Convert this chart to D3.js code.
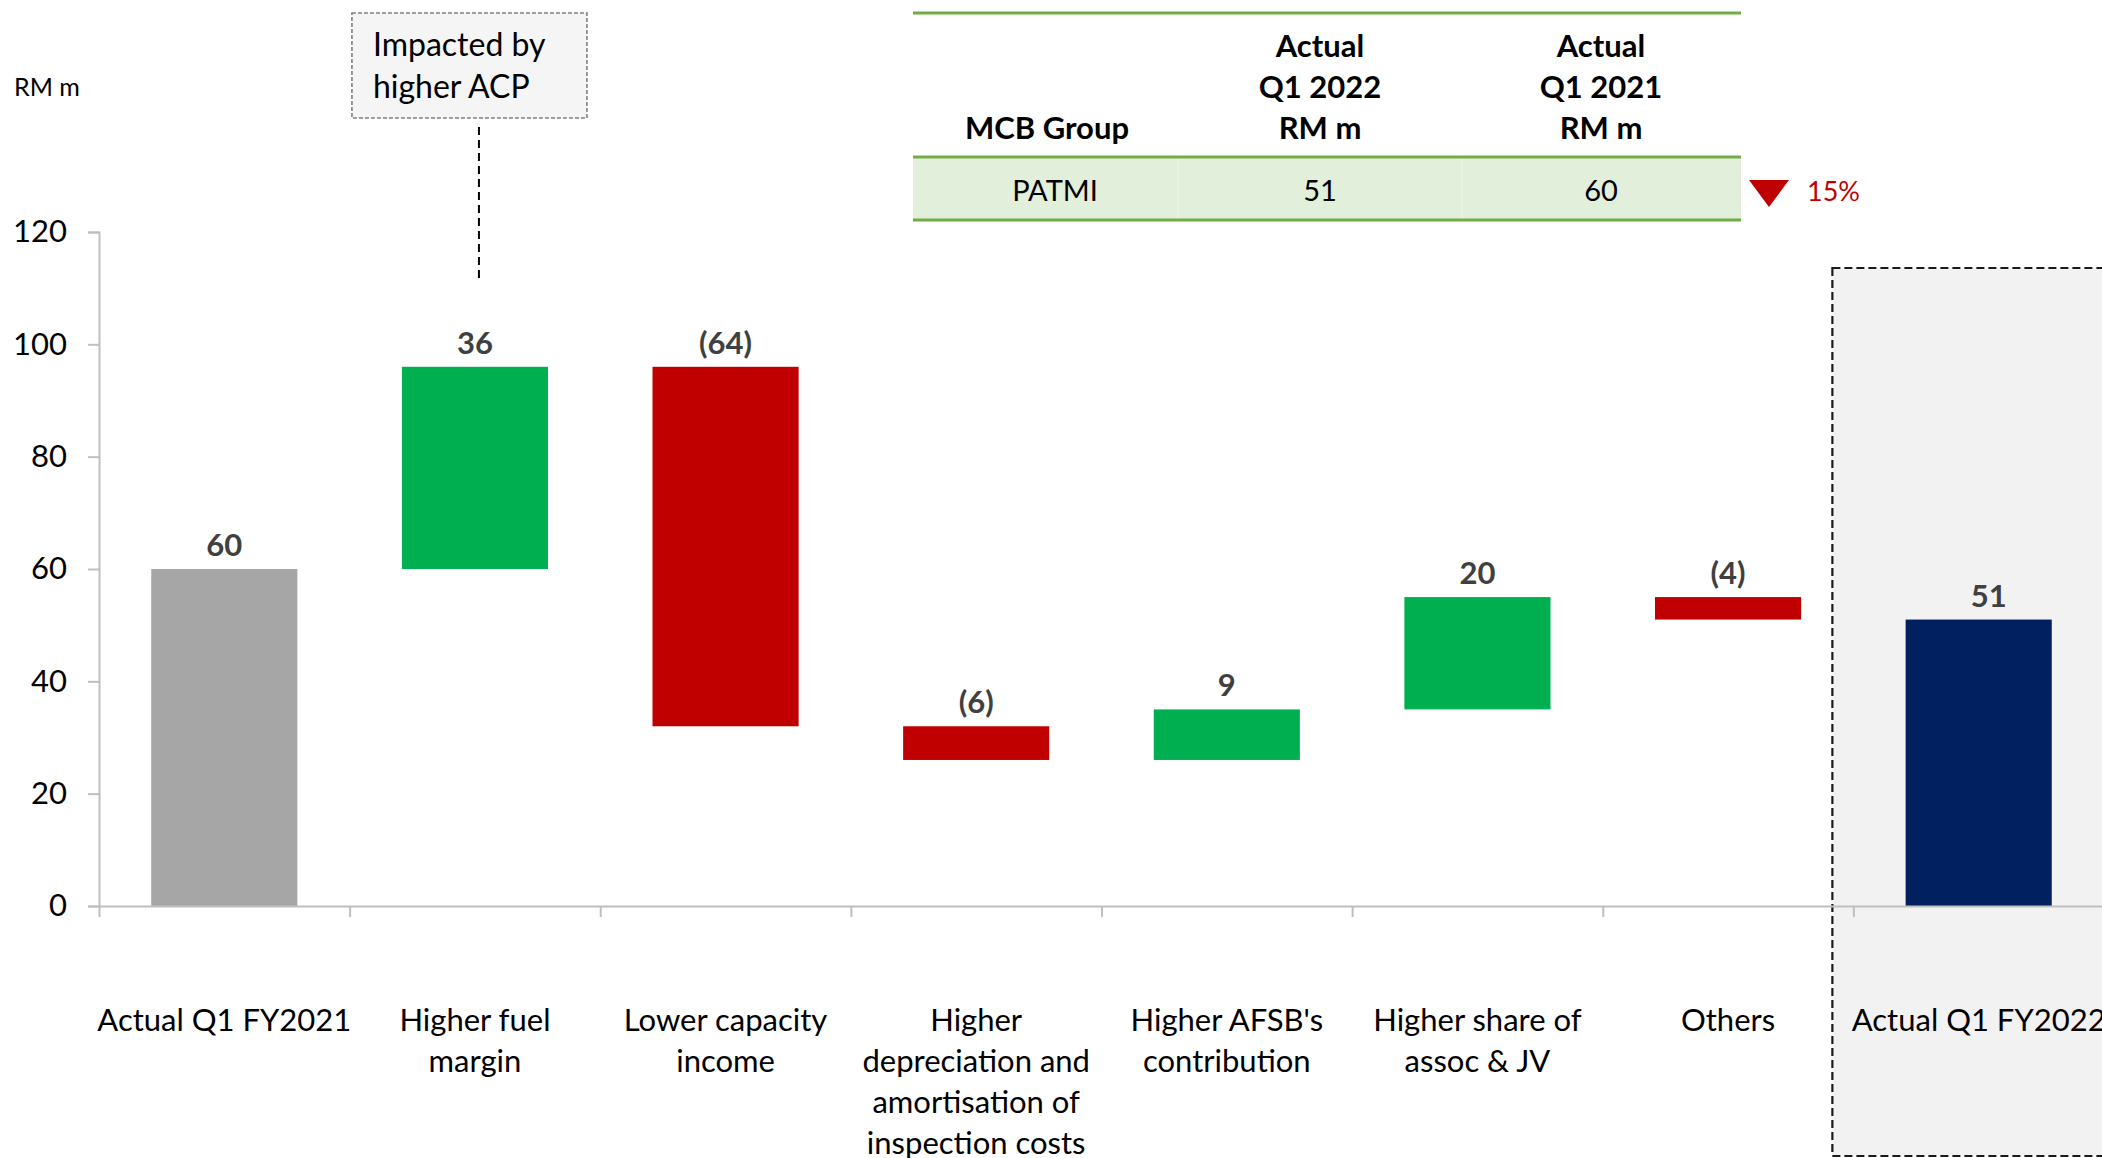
<!DOCTYPE html>
<html>
<head>
<meta charset="utf-8">
<script src="https://cdn.jsdelivr.net/npm/d3@7"></script>
<style>
  html, body { margin: 0; padding: 0; background: #ffffff; }
  svg { display: block; font-family: Lato, "Open Sans", sans-serif; }
</style>
</head>
<body>
<svg id="chart" width="2102" height="1158"></svg>
<script>
// ---- Bridge data: PATMI Q1 FY2021 -> Q1 FY2022 (RM m) ----
const categories = [
  "Actual Q1 FY2021",
  "Higher fuel margin",
  "Lower capacity income",
  "Higher depreciation and amortisation of inspection costs",
  "Higher AFSB's contribution",
  "Higher share of assoc & JV",
  "Others",
  "Actual Q1 FY2022"
];
// wrapped lines for the category axis
const categoryLines = [
  ["Actual Q1 FY2021"],
  ["Higher fuel", "margin"],
  ["Lower capacity", "income"],
  ["Higher", "depreciation and", "amortisation of", "inspection costs"],
  ["Higher AFSB's", "contribution"],
  ["Higher share of", "assoc & JV"],
  ["Others"],
  ["Actual Q1 FY2022"]
];
const values = [60, 36, -64, -6, 9, 20, -4, 51];
const barKinds = ["start", "step", "step", "step", "step", "step", "step", "end"];
const yTicks = [0, 20, 40, 60, 80, 100, 120];

// summary table
const tableHeader = [["MCB Group"], ["Actual", "Q1 2022", "RM m"], ["Actual", "Q1 2021", "RM m"]];
const tableRow = ["PATMI", "51", "60"];
const changeLabel = "15%";
const noteLines = ["Impacted by", "higher ACP"];

// ---- layout ----
const svg = d3.select("#chart");
const plot = { left: 99, right: 2104, top: 232, bottom: 906 };

const x = d3.scaleBand()
  .domain(categories)
  .range([plot.left, plot.right])
  .paddingInner(0.417)
  .paddingOuter(0.2085);

const xEdges = d3.scaleLinear()
  .domain([0, categories.length])
  .range([plot.left, plot.right]);

const y = d3.scaleLinear().domain([0, 120]).range([plot.bottom, plot.top]);

const colors = { start: "#a6a6a6", end: "#002060", up: "#00b050", down: "#c00000" };

// running totals for the floating bars
let running = 0;
const bars = values.map((v, i) => {
  const kind = barKinds[i];
  let lo, hi, fill;
  if (kind === "start" || kind === "end") {
    lo = 0; hi = v; running = v;
    fill = colors[kind];
  } else {
    const from = running, to = running + v;
    lo = Math.min(from, to); hi = Math.max(from, to);
    running = to;
    fill = v >= 0 ? colors.up : colors.down;
  }
  return { cat: categories[i], kind, value: v, lo, hi, fill, lines: categoryLines[i] };
});

// highlighted frame around the final column
svg.append("rect")
  .attr("x", xEdges(categories.length - 1) - 21)
  .attr("y", 268)
  .attr("width", 400)
  .attr("height", 1156 - 268)
  .attr("fill", "#f2f2f2")
  .attr("stroke", "#1a1a1a")
  .attr("stroke-width", 2.2)
  .attr("stroke-dasharray", "8,4");

// bars
svg.append("g").selectAll("rect")
  .data(bars)
  .join("rect")
  .attr("x", d => x(d.cat))
  .attr("width", x.bandwidth())
  .attr("y", d => y(d.hi))
  .attr("height", d => y(d.lo) - y(d.hi))
  .attr("fill", d => d.fill);

// value labels
const fmt = v => v < 0 ? `(${Math.abs(v)})` : `${v}`;
svg.append("g").selectAll("text")
  .data(bars)
  .join("text")
  .attr("x", d => x(d.cat) + x.bandwidth() / 2 + (d.kind === "end" ? 10 : 0))
  .attr("y", d => y(d.hi) - 13)
  .attr("text-anchor", "middle")
  .attr("font-size", 31)
  .attr("font-weight", 700)
  .attr("fill", "#404040")
  .text(d => fmt(d.value));

// y axis
const yAxis = svg.append("g")
  .attr("transform", `translate(${plot.left},0)`)
  .call(d3.axisLeft(y).tickValues(yTicks).tickSize(11).tickSizeOuter(11).tickPadding(21));
yAxis.selectAll("path, line").attr("stroke", "#bfbfbf").attr("stroke-width", 2);
yAxis.selectAll("text").attr("font-size", 31).attr("fill", "#000").attr("font-family", "Lato, sans-serif");

// x axis: ticks at column boundaries
const xAxis = svg.append("g")
  .attr("transform", `translate(0,${plot.bottom})`)
  .call(d3.axisBottom(xEdges).tickValues(d3.range(categories.length + 1)).tickSize(11).tickSizeOuter(0).tickFormat(""));
xAxis.selectAll("path, line").attr("stroke", "#bfbfbf").attr("stroke-width", 2);

// category labels
const catG = svg.append("g");
bars.forEach(d => {
  const t = catG.append("text")
    .attr("text-anchor", "middle")
    .attr("font-size", 31)
    .attr("fill", "#000");
  d.lines.forEach((ln, j) => {
    t.append("tspan")
      .attr("x", x(d.cat) + x.bandwidth() / 2)
      .attr("y", 1031 + j * 41)
      .text(ln);
  });
});

// unit label
svg.append("text")
  .attr("x", 14).attr("y", 96)
  .attr("font-size", 25)
  .attr("fill", "#000")
  .text("RM m");

// note box above the fuel margin bar
const noteCx = x(categories[1]) + x.bandwidth() / 2 + 4;
svg.append("rect")
  .attr("x", noteCx - 127).attr("y", 13)
  .attr("width", 235).attr("height", 105)
  .attr("fill", "#f5f5f5")
  .attr("stroke", "#808080")
  .attr("stroke-width", 1.6)
  .attr("stroke-dasharray", "4,2");
const noteText = svg.append("text")
  .attr("font-size", 32)
  .attr("fill", "#000");
noteLines.forEach((ln, j) => {
  noteText.append("tspan").attr("x", noteCx - 106).attr("y", 56 + j * 42).text(ln);
});
svg.append("line")
  .attr("x1", noteCx).attr("x2", noteCx)
  .attr("y1", 127).attr("y2", 282)
  .attr("stroke", "#000")
  .attr("stroke-width", 2)
  .attr("stroke-dasharray", "8,5");

// summary table
const tbl = { left: 913, right: 1741, top: 13, mid: 157, bottom: 220 };
const headerCenters = [1047, 1320, 1601];
const rowCenters = [1055, 1320, 1601];
svg.append("rect")
  .attr("x", tbl.left).attr("y", tbl.mid)
  .attr("width", tbl.right - tbl.left).attr("height", tbl.bottom - tbl.mid)
  .attr("fill", "#e2efda");
[1178, 1462].forEach(sx => {
  svg.append("line")
    .attr("x1", sx).attr("x2", sx).attr("y1", tbl.mid).attr("y2", tbl.bottom)
    .attr("stroke", "#ffffff").attr("stroke-width", 1.2).attr("opacity", 0.45);
});
[tbl.top, tbl.mid, tbl.bottom].forEach(ly => {
  svg.append("line")
    .attr("x1", tbl.left).attr("x2", tbl.right).attr("y1", ly).attr("y2", ly)
    .attr("stroke", "#70ad47").attr("stroke-width", 3);
});
tableHeader.forEach((lines, i) => {
  const t = svg.append("text")
    .attr("text-anchor", "middle")
    .attr("font-size", 31)
    .attr("font-weight", 700)
    .attr("fill", "#000");
  const n = lines.length;
  lines.forEach((ln, j) => {
    t.append("tspan").attr("x", headerCenters[i]).attr("y", 139 - (n - 1 - j) * 41).text(ln);
  });
});
tableRow.forEach((v, i) => {
  svg.append("text")
    .attr("x", rowCenters[i]).attr("y", 201)
    .attr("text-anchor", "middle")
    .attr("font-size", 29)
    .attr("fill", "#000")
    .text(v);
});
// change indicator
svg.append("path")
  .attr("d", d3.line()([[1749, 180], [1789, 180], [1769, 207]]) + "Z")
  .attr("fill", "#c00000");
svg.append("text")
  .attr("x", 1807).attr("y", 201)
  .attr("font-size", 27)
  .attr("fill", "#c00000")
  .text(changeLabel);
</script>
</body>
</html>
